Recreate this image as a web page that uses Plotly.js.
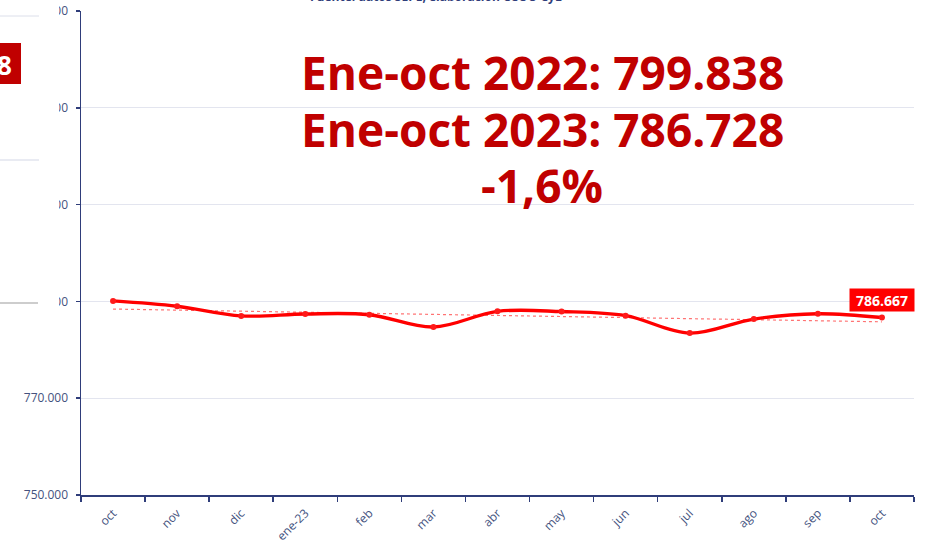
<!DOCTYPE html>
<html>
<head>
<meta charset="utf-8">
<script src="https://cdn.plot.ly/plotly-3.0.1.min.js"></script>
<style>
  html, body { margin: 0; padding: 0; background: #fff; }
  #chart { width: 928px; height: 541px; }
</style>
</head>
<body>
<div id="chart"></div>
<script>
// ---- Data ----
const months = ['oct', 'nov', 'dic', 'ene-23', 'feb', 'mar', 'abr', 'may', 'jun', 'jul', 'ago', 'sep', 'oct'];
const values = [790100, 789000, 787000, 787400, 787250, 784700, 787950, 787900, 787050, 783450, 786350, 787450, 786667];
const yTicks = [750000, 770000, 790000, 810000, 830000, 850000];
const headline = ['Ene-oct 2022: 799.838', 'Ene-oct 2023: 786.728', '-1,6%'];
const sourceText = 'Fuente: datos SEPE; elaboración CCOO CyL';
const leftFragment = '8';

// ---- Derived ----
const idx = months.map((_, i) => i);
const bounds = months.map((_, i) => i - 0.5).concat([months.length - 0.5]);
const n = values.length;
const mx = idx.reduce((a, b) => a + b, 0) / n;
const my = values.reduce((a, b) => a + b, 0) / n;
let sxy = 0, sxx = 0;
idx.forEach((x, i) => { sxy += (x - mx) * (values[i] - my); sxx += (x - mx) * (x - mx); });
const slope = sxy / sxx;
const trend = idx.map(x => my + slope * (x - mx));
const fmt = v => Math.round(v).toString().replace(/\B(?=(\d{3})+(?!\d))/g, '.');

// ---- Geometry helpers (pixel -> paper) ----
const L = 81, R = 914, T = 11, B = 495;
const X = px => (px - L) / (R - L);
const Y = py => (B - py) / (B - T);

const navy = '#2f3d7a';
const tickFont = { family: 'Open Sans, sans-serif', size: 12, color: '#44527e' };
const red = '#c00000';

const traces = [
  {
    x: idx, y: trend, type: 'scatter', mode: 'lines',
    line: { color: 'rgba(255,0,0,0.55)', width: 1.2, dash: 'dot' },
    hoverinfo: 'skip', showlegend: false
  },
  {
    x: idx, y: values, type: 'scatter', mode: 'lines+markers',
    line: { color: '#ff0000', width: 3.4, shape: 'spline', smoothing: 1 },
    marker: { color: '#ff1a1a', size: 6 },
    showlegend: false
  }
];

const layout = {
  width: 928, height: 541,
  margin: { l: L, r: 928 - R, t: T, b: 541 - B, pad: 0 },
  paper_bgcolor: '#ffffff', plot_bgcolor: '#ffffff',
  separators: ',.',
  showlegend: false,
  xaxis: {
    range: [-0.5, months.length - 0.5],
    tickmode: 'array', tickvals: idx, ticktext: months,
    ticks: 'outside', ticklen: 5, tickcolor: 'rgba(0,0,0,0)',
    tickangle: -45, tickfont: tickFont,
    showline: true, linecolor: navy, linewidth: 1.5,
    showgrid: false, zeroline: false,
    minor: { tickmode: 'array', tickvals: bounds, ticks: 'outside', ticklen: 5, tickwidth: 1.5, tickcolor: navy, showgrid: false }
  },
  yaxis: {
    range: [750000, 850000],
    tickmode: 'array', tickvals: yTicks,
    tickformat: ',.0f',
    ticks: 'outside', ticklen: 4, tickwidth: 1.5, tickcolor: navy,
    ticklabelstandoff: 5,
    tickfont: tickFont,
    showline: true, linecolor: navy, linewidth: 1.5,
    showgrid: true, gridcolor: '#e3e5ef', gridwidth: 1,
    zeroline: false
  },
  shapes: [
    // cover for the overlapping element on the left
    { type: 'rect', xref: 'paper', yref: 'paper', x0: X(-5), x1: X(59), y0: Y(345), y1: Y(-5),
      fillcolor: '#ffffff', line: { width: 0 }, layer: 'above' },
    { type: 'line', xref: 'paper', yref: 'paper', x0: X(0), x1: X(39), y0: Y(16), y1: Y(16),
      line: { color: '#dcdfea', width: 1 }, layer: 'above' },
    { type: 'line', xref: 'paper', yref: 'paper', x0: X(0), x1: X(39), y0: Y(160), y1: Y(160),
      line: { color: '#d3d7e6', width: 1 }, layer: 'above' },
    { type: 'line', xref: 'paper', yref: 'paper', x0: X(0), x1: X(38), y0: Y(303), y1: Y(303),
      line: { color: '#bdbdbd', width: 1.5 }, layer: 'above' },
    { type: 'rect', xref: 'paper', yref: 'paper', x0: X(-2), x1: X(21), y0: Y(84), y1: Y(43),
      fillcolor: red, line: { width: 0 }, layer: 'above' }
  ],
  annotations: [
    { xref: 'paper', yref: 'paper', x: X(436), y: Y(-4), xanchor: 'center', yanchor: 'middle',
      text: sourceText, showarrow: false,
      font: { family: 'Open Sans, sans-serif', size: 12, color: navy, weight: 'bold' } },
    { xref: 'paper', yref: 'paper', x: X(14), y: Y(64.5), xanchor: 'right', yanchor: 'middle',
      text: '<b>' + leftFragment + '</b>', showarrow: false,
      font: { family: 'Open Sans, sans-serif', size: 26, color: '#ffffff' } },
    { xref: 'paper', yref: 'paper', x: X(542), y: Y(72), xanchor: 'center', yanchor: 'middle',
      text: '<b>' + headline[0] + '</b>', showarrow: false,
      font: { family: 'Open Sans, sans-serif', size: 46, color: red } },
    { xref: 'paper', yref: 'paper', x: X(542), y: Y(128.5), xanchor: 'center', yanchor: 'middle',
      text: '<b>' + headline[1] + '</b>', showarrow: false,
      font: { family: 'Open Sans, sans-serif', size: 46, color: red } },
    { xref: 'paper', yref: 'paper', x: X(542), y: Y(184.5), xanchor: 'center', yanchor: 'middle',
      text: '<b>' + headline[2] + '</b>', showarrow: false,
      font: { family: 'Open Sans, sans-serif', size: 46, color: red } },
    { xref: 'x', yref: 'y', x: idx[n - 1], y: values[n - 1], xanchor: 'center', yanchor: 'middle',
      yshift: 18, text: '<b>' + fmt(values[n - 1]) + '</b>', showarrow: false,
      bgcolor: '#ff0000', borderpad: 3, width: 58, height: 16,
      font: { family: 'Open Sans, sans-serif', size: 14, color: '#ffffff' } }
  ]
};

Plotly.newPlot('chart', traces, layout, { displayModeBar: false, staticPlot: true });
</script>
</body>
</html>
